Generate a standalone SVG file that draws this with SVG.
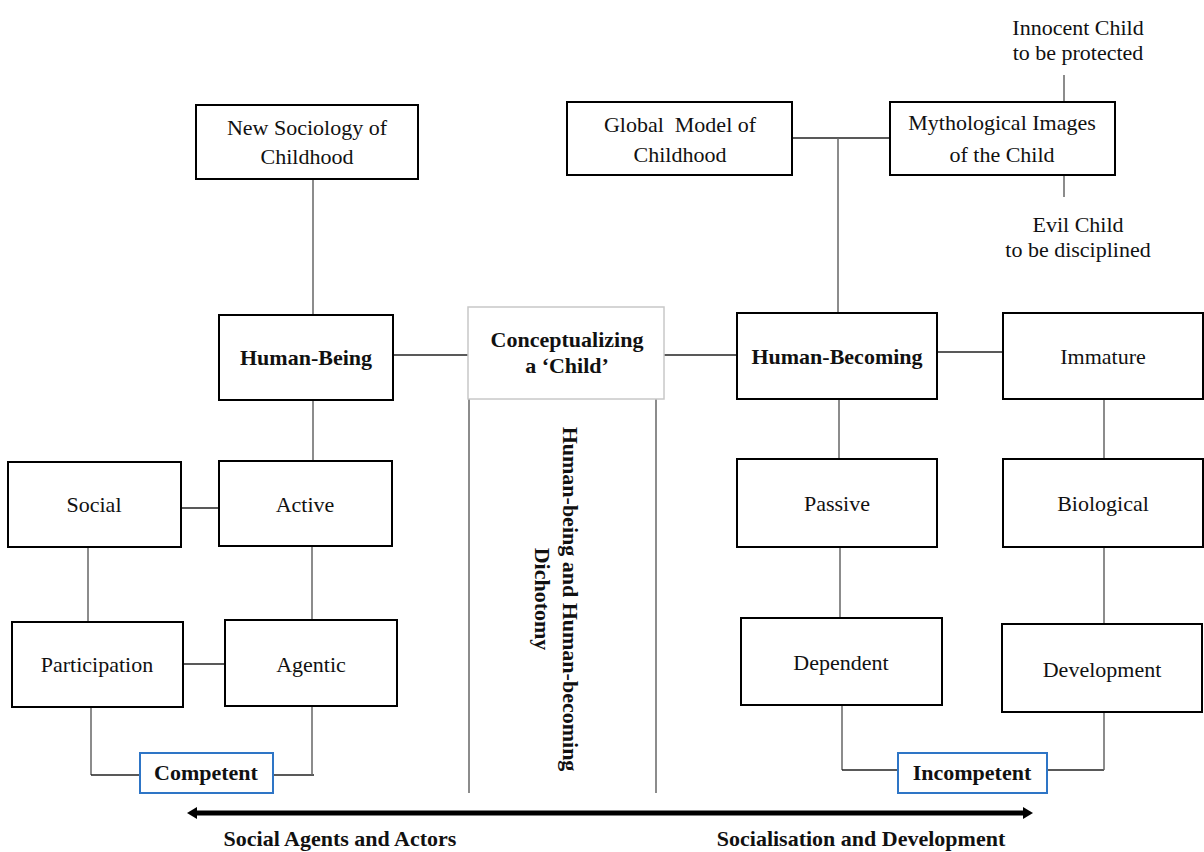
<svg xmlns="http://www.w3.org/2000/svg" width="1204" height="852" viewBox="0 0 1204 852">
<defs>
<style>
.box{fill:#fff;stroke:#000;stroke-width:2}
.cbox{fill:#fff;stroke:#c8c8c8;stroke-width:1.5}
.bbox{fill:#fff;stroke:#2e75c6;stroke-width:2}
.t{font-family:"Liberation Serif","Times New Roman",serif;font-size:22px;fill:#111;text-anchor:middle}
.b{font-weight:bold}
.h{stroke:#222;stroke-width:1.3;fill:none}
.v{stroke:#666;stroke-width:1.5;fill:none}
.arrow{stroke:#000;stroke-width:5;fill:none}
.head{fill:#000}
</style>
</defs>
<rect width="1204" height="852" fill="#fff"/>

<g id="connectors">
<line class="v" x1="313" y1="180" x2="313" y2="315"/>
<line class="h" x1="393" y1="355" x2="468" y2="355"/>
<line class="h" x1="664" y1="355" x2="737" y2="355"/>
<line class="h" x1="937" y1="352" x2="1003" y2="352"/>
<line class="h" x1="792" y1="138" x2="890" y2="138"/>
<line class="v" x1="838" y1="138" x2="838" y2="313"/>
<line class="v" x1="1064" y1="75" x2="1064" y2="102"/>
<line class="v" x1="1064" y1="175" x2="1064" y2="197"/>
<line class="v" x1="313" y1="400" x2="313" y2="461"/>
<line class="h" x1="181" y1="508" x2="219" y2="508"/>
<line class="v" x1="88" y1="547" x2="88" y2="622"/>
<line class="v" x1="312" y1="546" x2="312" y2="620"/>
<line class="h" x1="183" y1="664" x2="225" y2="664"/>
<line class="v" x1="91" y1="707" x2="91" y2="775"/>
<line class="h" x1="91" y1="775" x2="140" y2="775"/>
<line class="h" x1="273" y1="775" x2="314" y2="775"/>
<line class="v" x1="312" y1="706" x2="312" y2="775"/>
<line class="v" x1="839" y1="399" x2="839" y2="459"/>
<line class="v" x1="840" y1="547" x2="840" y2="618"/>
<line class="v" x1="1104" y1="399" x2="1104" y2="459"/>
<line class="v" x1="1104" y1="547" x2="1104" y2="624"/>
<line class="v" x1="842" y1="705" x2="842" y2="770"/>
<line class="h" x1="842" y1="770" x2="898" y2="770"/>
<line class="h" x1="1047" y1="770" x2="1104" y2="770"/>
<line class="v" x1="1104" y1="712" x2="1104" y2="770"/>
<line class="v" x1="469" y1="399" x2="469" y2="793"/>
<line class="v" x1="656" y1="399" x2="656" y2="793"/>
<line class="arrow" x1="195" y1="813" x2="1025" y2="813"/>
<polygon class="head" points="187,813 197,807 197,819"/>
<polygon class="head" points="1033,813 1023,807 1023,819"/>
</g>

<g id="innocent"><text class="t" x="1078" y="35">Innocent Child</text><text class="t" x="1078" y="60">to be protected</text></g>
<g id="evil"><text class="t" x="1078" y="232">Evil Child</text><text class="t" x="1078" y="257">to be disciplined</text></g>

<g id="new-sociology"><rect class="box" x="196" y="105" width="222" height="74"/><text class="t" x="307" y="135">New Sociology of</text><text class="t" x="307" y="164">Childhood</text></g>
<g id="global-model"><rect class="box" x="567" y="102" width="225" height="73"/><text class="t" x="680" y="132" xml:space="preserve">Global  Model of</text><text class="t" x="680" y="162">Childhood</text></g>
<g id="mythological"><rect class="box" x="890" y="102" width="225" height="73"/><text class="t" x="1002" y="130">Mythological Images</text><text class="t" x="1002" y="162">of the Child</text></g>

<g id="human-being"><rect class="box" x="219" y="315" width="174" height="85"/><text class="t b" x="306" y="365">Human-Being</text></g>
<g id="conceptualizing"><rect class="cbox" x="468" y="307" width="196" height="92"/><text class="t b" x="567" y="347">Conceptualizing</text><text class="t b" x="567" y="373">a ‘Child’</text></g>
<g id="human-becoming"><rect class="box" x="737" y="313" width="200" height="86"/><text class="t b" x="837" y="364">Human-Becoming</text></g>
<g id="immature"><rect class="box" x="1003" y="313" width="200" height="86"/><text class="t" x="1103" y="364">Immature</text></g>

<g id="social"><rect class="box" x="8" y="462" width="173" height="85"/><text class="t" x="94" y="512">Social</text></g>
<g id="active"><rect class="box" x="219" y="461" width="173" height="85"/><text class="t" x="305" y="512">Active</text></g>
<g id="participation"><rect class="box" x="12" y="622" width="171" height="85"/><text class="t" x="97" y="672">Participation</text></g>
<g id="agentic"><rect class="box" x="225" y="620" width="172" height="86"/><text class="t" x="311" y="672">Agentic</text></g>
<g id="competent"><rect class="bbox" x="140" y="753" width="133" height="40"/><text class="t b" x="206" y="780">Competent</text></g>

<g id="passive"><rect class="box" x="737" y="459" width="200" height="88"/><text class="t" x="837" y="511">Passive</text></g>
<g id="biological"><rect class="box" x="1003" y="459" width="200" height="88"/><text class="t" x="1103" y="511">Biological</text></g>
<g id="dependent"><rect class="box" x="741" y="618" width="201" height="87"/><text class="t" x="841" y="670">Dependent</text></g>
<g id="development"><rect class="box" x="1002" y="624" width="200" height="88"/><text class="t" x="1102" y="677">Development</text></g>
<g id="incompetent"><rect class="bbox" x="898" y="753" width="149" height="40"/><text class="t b" x="972" y="780">Incompetent</text></g>

<g id="dichotomy" transform="translate(556,599) rotate(90)"><text class="t b" x="0" y="-7">Human-being and Human-becoming</text><text class="t b" x="0" y="21">Dichotomy</text></g>

<g id="labels"><text class="t b" x="340" y="846">Social Agents and Actors</text><text class="t b" x="861" y="846">Socialisation and Development</text></g>
</svg>
